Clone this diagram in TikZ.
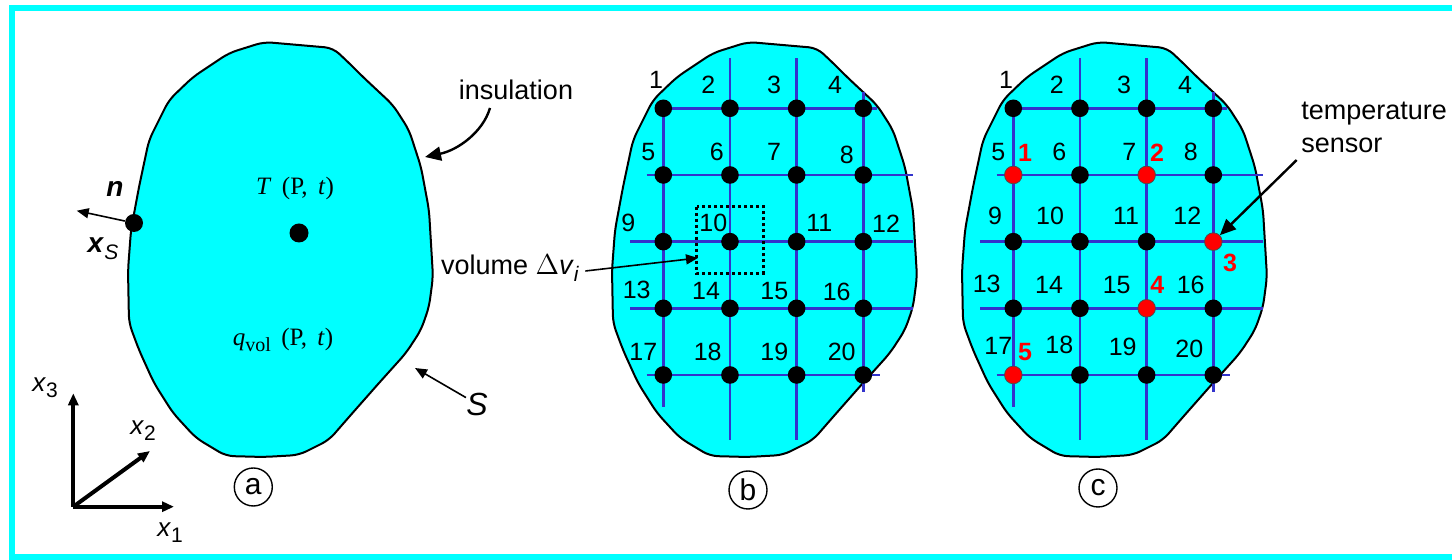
\documentclass[tikz,border=0pt]{standalone}
\usepackage{fontspec}
\setmainfont{Liberation Sans}
\newfontfamily\serifT{Liberation Serif}
\usetikzlibrary{arrows.meta}
\definecolor{cyanfill}{RGB}{0,255,255}
\definecolor{gridblue}{RGB}{51,51,204}
\definecolor{sensred}{RGB}{255,0,0}
\tikzset{
  blobline/.style={draw=black, line width=1pt, fill=cyanfill, rounded corners=4pt},
  gridline/.style={draw=gridblue, line width=1.25pt},
  dot/.style={circle, fill=black, inner sep=0pt, minimum size=8.8pt},
  rdot/.style={circle, fill=sensred, draw=black!70, line width=0.4pt, inner sep=0pt, minimum size=8.8pt},
  num/.style={font=\fontsize{12.5}{14}\selectfont, inner sep=0pt},
  rnum/.style={font=\fontsize{12.5}{14}\selectfont\bfseries, text=sensred, inner sep=0pt},
  lab/.style={font=\fontsize{13.5}{16.5}\selectfont, inner sep=0pt},
  sym/.style={font=\fontsize{12.5}{14}\selectfont\serifT, inner sep=0pt},
  circlab/.style={circle, draw=black, line width=0.7pt, inner sep=0pt, minimum size=19pt, font=\fontsize{15}{17}\selectfont},
  thinarrow/.style={draw=black, line width=0.8pt, -{Triangle[length=6pt,width=5pt]}},
  bigarrow/.style={draw=black, line width=1.2pt, -{Triangle[length=8pt,width=7pt]}},
  axisarrow/.style={draw=black, line width=2pt, -{Triangle[length=6pt,width=5pt]}},
}
\newcommand{\blobpath}{(0,-208) -- (69,-202) -- (85,-187) -- (99,-173) -- (129,-145) -- (145,-120) -- (157,-83) -- (165,-40) -- (169,27) -- (165,57) -- (157,80) -- (142,103) -- (115,133) -- (85,167) -- (65,190) -- (35,205) -- (0,207) -- (-38,206) -- (-68,188) -- (-91,163) -- (-110,133) -- (-125,100) -- (-135,73) -- (-136,20) -- (-133,-20) -- (-125,-63) -- (-115,-110) -- (-95,-150) -- (-71,-173) -- (-35,-197) -- cycle}
\newcommand{\gridlines}{%
  \draw[gridline] (663.3,108.3) -- (663.3,406.7);
  \draw[gridline] (730,58.3) -- (730,440);
  \draw[gridline] (796.7,58.3) -- (796.7,440);
  \draw[gridline] (863.3,91.7) -- (863.3,391.7);
  \draw[gridline] (663.3,108.3) -- (876.7,108.3);
  \draw[gridline] (646.7,175) -- (913.3,175);
  \draw[gridline] (630,241.7) -- (913.3,241.7);
  \draw[gridline] (630,308.3) -- (913.3,308.3);
  \draw[gridline] (646.7,375) -- (880,375);
}
\begin{document}
\begin{tikzpicture}[x=0.5pt,y=-0.5pt]
\useasboundingbox (0,0) rectangle (1452,560);
% frame
\draw[cyanfill, line width=3pt] (12,8) rectangle (1470,557);

% ---------- panel a ----------
\begin{scope}[shift={(264,250)}]
  \path[blobline] \blobpath;
\end{scope}
\node[dot, minimum size=9pt] (xs) at (134,223) {};
\node[dot, minimum size=9.5pt] (P) at (299,233) {};
\coordinate (ntip) at (76.7,210.7);
\draw[thinarrow] (xs) -- (ntip);
\node[lab, font=\fontsize{14}{16}\selectfont\bfseries\itshape] (nlab) at (115,189) {n};
\node[lab, font=\fontsize{14}{16}\selectfont] (xslab) at (103,249) {\textbf{\textit{x}}\raisebox{-0.45ex}{\fontsize{10.5}{12}\selectfont\textit{S}}};
\node[sym] (Tlab) at (295,188) {\textit{T}\, (P,\, \textit{t})};
\node[sym] (qlab) at (283,340) {\textit{q}\raisebox{-0.45ex}{\fontsize{10}{11}\selectfont vol}\, (P,\, \textit{t})};
\node[lab] (ins) at (516,90) {insulation};
\coordinate (insA) at (490,108);
\coordinate (insB) at (425,157);
\draw[bigarrow] (insA) .. controls (483,132) and (458,150) .. (insB);
\node[lab, font=\fontsize{16}{18}\selectfont\itshape] (S) at (477,404) {S};
\coordinate (Stip) at (415,368);
\draw[thinarrow] (S) -- (Stip);
% axes
\coordinate (O) at (73.3,506.7);
\coordinate (X3) at (73.3,393.3);
\coordinate (X1) at (174,506.7);
\coordinate (X2) at (150,451);
\draw[axisarrow] (O) -- (X3);
\draw[axisarrow] (O) -- (X1);
\draw[axisarrow] (O) -- (X2);
\node[lab, font=\fontsize{13}{15}\selectfont] (x3lab) at (45,388) {\textit{x}\raisebox{-0.45ex}{\fontsize{10.5}{12}\selectfont 3}};
\node[lab, font=\fontsize{13}{15}\selectfont] (x2lab) at (143,431) {\textit{x}\raisebox{-0.45ex}{\fontsize{10.5}{12}\selectfont 2}};
\node[lab, font=\fontsize{13}{15}\selectfont] (x1lab) at (170,533) {\textit{x}\raisebox{-0.45ex}{\fontsize{10.5}{12}\selectfont 1}};
\node[circlab] (pa) at (253.3,487) {a};

% ---------- panel b ----------
\begin{scope}[shift={(748,250)}]
  \path[blobline] \blobpath;
\end{scope}
\gridlines
\foreach \r in {0,...,4} \foreach \c in {0,...,3} {
  \pgfmathtruncatemacro\k{\r*4+\c+1}
  \node[dot] (b\k) at ({663.3+66.67*\c},{108.3+66.67*\r}) {};
}
\foreach \k/\x/\y in {1/656/80, 2/708.3/85, 3/774/85, 4/835/85, 5/648.3/151.7, 6/716.7/151.7, 7/774/151.7, 8/846.7/155, 9/628.3/222.7, 10/713.3/222.7, 11/819.3/223.3, 12/886/223.3, 13/636.7/290, 14/706/290.7, 15/774.3/290.7, 16/836.7/291.7, 17/643.3/351.7, 18/707.7/351.7, 19/774.3/351.7, 20/841.7/351.7}
  \node[num] (lb\k) at (\x,\y) {\k};
\draw[black, line width=1.5pt, dash pattern=on 1.5pt off 1.5pt] (696.7,206.7) rectangle (763.3,273.3);
\coordinate (voltip) at (698,258);
\node[lab] (vol) at (510,268) {volume \(\Delta\)\textit{v}\raisebox{-0.45ex}{\fontsize{10.5}{12}\selectfont\textit{i}}};
\path (vol.east) ++(6,3) coordinate (volA);
\draw[thinarrow] (volA) -- (voltip);
\node[circlab] (pb) at (748,490) {b};

% ---------- panel c ----------
\begin{scope}[shift={(1098,250)}]
  \path[blobline] \blobpath;
\end{scope}
\begin{scope}[shift={(350,0)}]
  \gridlines
\end{scope}
\foreach \r in {0,...,4} \foreach \c in {0,...,3} {
  \pgfmathtruncatemacro\k{\r*4+\c+1}
  \def\sty{dot}
  \ifnum\k=5 \def\sty{rdot}\fi
  \ifnum\k=7 \def\sty{rdot}\fi
  \ifnum\k=12 \def\sty{rdot}\fi
  \ifnum\k=15 \def\sty{rdot}\fi
  \ifnum\k=17 \def\sty{rdot}\fi
  \node[\sty] (c\k) at ({1013.3+66.67*\c},{108.3+66.67*\r}) {};
}
\foreach \k/\x/\y in {1/1006/80, 2/1056.7/85, 3/1124/85, 4/1185/85, 5/998.3/152, 6/1059.3/152, 7/1129.3/152, 8/1190.7/152, 9/995/216, 10/1050/216, 11/1126/216, 12/1187.3/216, 13/986.7/284, 14/1049/285, 15/1116.7/285, 16/1190.7/285, 17/998.3/346, 18/1059.3/345, 19/1122.7/346.7, 20/1189.3/349.3}
  \node[num] (lc\k) at (\x,\y) {\k};
\foreach \k/\x/\y in {1/1025/152.5, 2/1157/152.5, 3/1230/263.3, 4/1157.3/285, 5/1025/351.7}
  \node[rnum] (r\k) at (\x,\y) {\k};
\node[lab, align=left, anchor=west] (sens) at (1301,127) {temperature\\sensor};
\coordinate (sensA) at (1296.7,160);
\draw[bigarrow] (sensA) -- (c12);
\node[circlab] (pc) at (1098,488) {c};
\end{tikzpicture}
\end{document}
